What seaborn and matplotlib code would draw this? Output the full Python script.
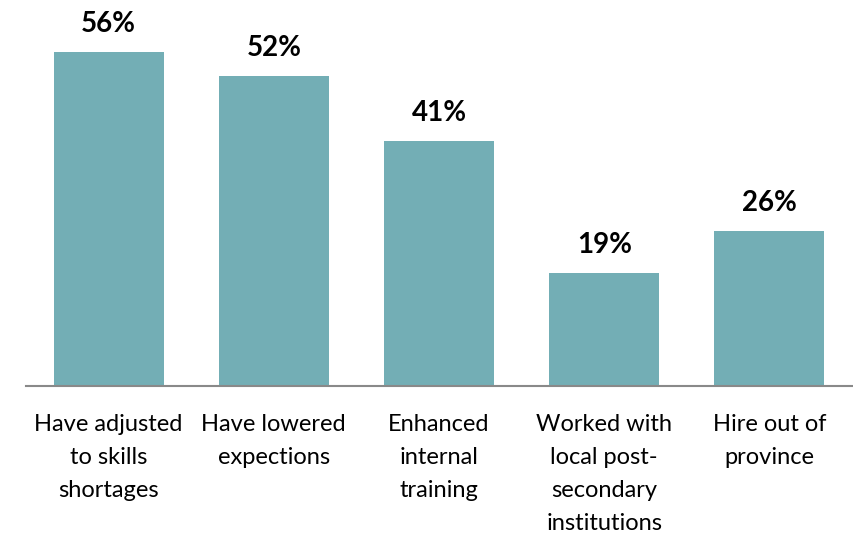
import matplotlib
matplotlib.use("Agg")
import matplotlib.pyplot as plt
import seaborn as sns
import pandas as pd

categories = [
    "Have adjusted\nto skills\nshortages",
    "Have lowered\nexpections",
    "Enhanced\ninternal\ntraining",
    "Worked with\nlocal post-\nsecondary\ninstitutions",
    "Hire out of\nprovince",
]
values = [56, 52, 41, 19, 26]
value_labels = ["56%", "52%", "41%", "19%", "26%"]

bar_color = "#73AEB5"

sns.set_theme(style="white")
plt.rcParams["font.family"] = ["Lato", "DejaVu Sans"]

df = pd.DataFrame({"category": categories, "value": values})

fig = plt.figure(figsize=(8.54, 5.33), dpi=100)
ax = fig.add_axes([26 / 854, (533 - 386) / 533, 826 / 854, 386 / 533])

sns.barplot(data=df, x="category", y="value", color=bar_color,
            width=0.665, saturation=1, linewidth=0, ax=ax)

ax.set_xlim(-0.5, len(categories) - 0.5)
ax.set_ylim(0, 64.7)

for i, (v, lab) in enumerate(zip(values, value_labels)):
    ax.annotate(lab, xy=(i, v), xytext=(0, 14.5), textcoords="offset points",
                ha="center", va="baseline", fontsize=20, fontweight="bold",
                color="black")

for s in ["top", "right", "left"]:
    ax.spines[s].set_visible(False)
ax.spines["bottom"].set_color("#898989")
ax.spines["bottom"].set_linewidth(1.5)

ax.set_yticks([])
ax.set_xlabel("")
ax.set_ylabel("")
ax.tick_params(axis="x", length=0, pad=20.5)
for t in ax.get_xticklabels():
    t.set_fontsize(17)
    t.set_color("black")
    t.set_linespacing(1.7)
    t.set_va("top")

fig.savefig("out.png", dpi=100, facecolor="white")
